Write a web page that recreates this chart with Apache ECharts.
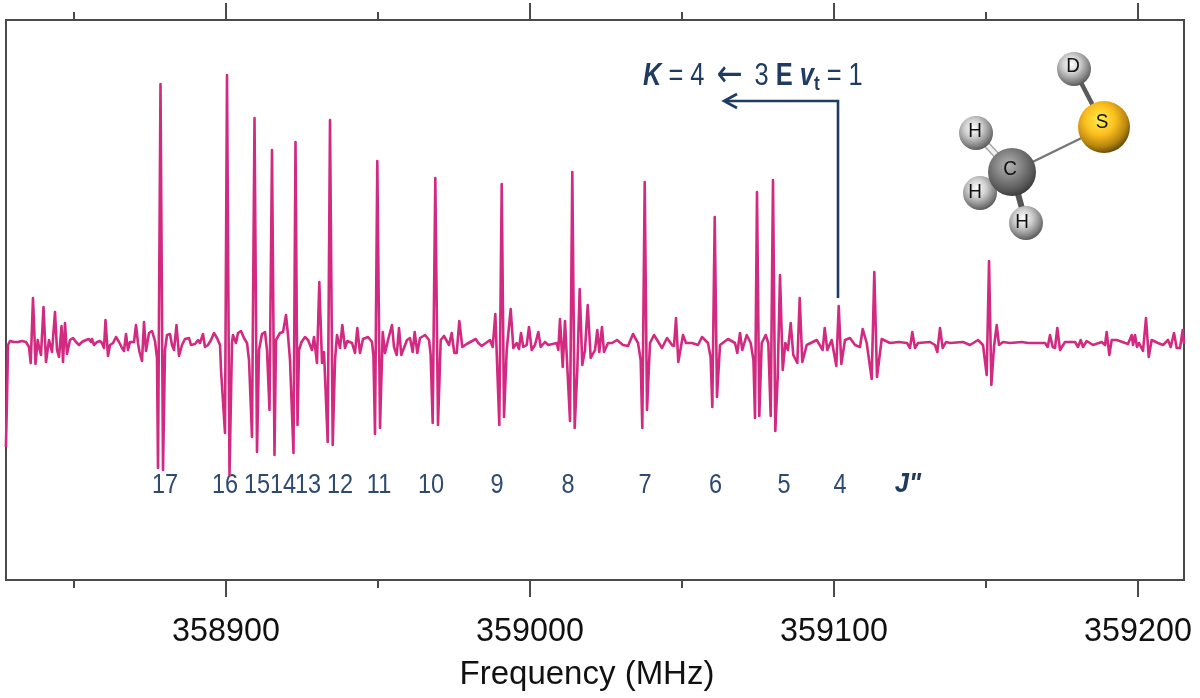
<!DOCTYPE html>
<html><head><meta charset="utf-8">
<style>html,body{margin:0;padding:0;background:#fff}#c{width:1200px;height:698px}</style>
<script src="https://cdn.jsdelivr.net/npm/echarts@6/dist/echarts.min.js"></script>
</head><body><div id="c"></div>
<script>
const BASE_MHZ = 358800;
const freqOffsets = [27.6,27.96,28.29,28.95,30.26,31.58,32.89,34.21,35.2,35.76,36.51,37.34,38.06,38.49,39.14,39.97,40.79,41.78,42.76,43.75,44.41,45.07,45.89,46.38,47.04,47.7,48.68,49.67,50.66,51.64,52.63,53.95,54.93,55.59,55.92,56.58,57.57,58.55,59.21,59.87,60.36,61.18,61.84,62.83,63.82,64.8,65.79,66.45,67.11,67.76,68.42,69.74,70.39,71.05,71.55,72.37,73.03,73.68,74.67,75.66,76.64,77.3,77.63,78.45,79.28,79.93,80.59,81.58,82.24,82.89,83.72,84.54,85.53,86.51,87.83,88.49,89.8,90.79,91.45,92.43,93.09,94.08,95.07,96.05,97.04,98.03,98.36,99.67,100.33,101.15,101.97,102.3,103.29,103.95,104.93,105.92,106.91,107.57,108.55,109.38,110.2,110.86,111.84,112.83,113.49,114.31,115.13,115.95,116.45,117.76,118.75,119.74,120.39,121.05,122.2,122.86,123.52,124.01,124.84,125.99,126.97,128.29,128.95,129.93,130.69,131.58,132.24,133.45,134.21,135.1,135.86,136.51,137.5,138.26,139.14,139.9,141.45,142.43,143.19,144.08,145.07,146.71,148.03,148.5,149.01,149.77,150.66,151.55,152.3,153.29,154.61,155.26,156.15,156.91,157.66,159.54,160.53,161.41,162.07,162.93,163.82,165.47,166.78,167.3,167.99,168.85,169.74,170.63,171.71,173.36,174.24,175.1,175.89,176.74,177.73,179.18,182.14,183.0,184.11,186.84,187.73,188.59,189.9,190.69,191.45,192.34,193.65,194.51,195.63,196.38,197.04,197.8,198.91,199.67,200.56,201.64,202.73,203.52,204.93,206.02,208.78,209.31,209.87,210.76,211.51,213.16,213.91,214.7,215.56,216.35,217.2,218.09,218.98,219.97,221.38,222.14,222.8,223.68,224.34,225.66,226.97,228.62,230.59,232.24,233.88,235.53,236.4,236.94,237.73,238.49,239.47,240.79,243.42,245.07,246.71,247.37,248.03,248.78,250.33,251.32,253.29,255.26,256.58,258.55,259.4,259.97,260.76,261.51,262.5,265.13,267.43,268.19,269.08,269.84,271.28,272.6,273.5,274.01,274.67,275.43,276.22,277.53,278.39,279.18,279.93,280.69,281.48,282.24,283.13,283.99,284.87,285.76,286.61,287.93,288.72,289.57,291.02,294.31,296.28,296.94,297.8,299.24,300.76,301.55,302.4,303.62,305.26,306.91,308.55,309.44,310.76,312.4,313.26,314.14,315.69,318.42,321.38,324.01,325.0,325.76,326.64,327.63,331.58,333.22,333.98,334.87,335.76,336.84,338.16,342.43,344.74,347.37,349.01,350.23,351.0,351.76,352.63,353.52,354.28,355.59,357.89,361.84,363.82,369.41,370.3,371.05,371.94,372.7,373.45,374.34,375.99,379.28,380.26,381.15,381.91,383.12,385.2,388.06,389.14,389.7,390.56,391.35,392.99,396.71,397.93,398.36,399.01,399.67,400.33,401.64,402.63,403.52,404.5,406.58,408.22,409.87,410.76,411.84,412.73,413.82,414.7,415.13];
const intensity = [-105,-58,-3,1,0,0,1,0,-5,-21,44,-22,2,-5,-13,35,-20,2,-10,30,-8,-15,16,-20,19,-12,2,4,0,-3,0,2,3,0,3,-3,0,1,-1,-6,22,-14,-3,-1,5,0,-6,-9,8,-8,0,0,17,-1,-10,-19,20,-9,9,11,1,-16,-126,258,-128,-8,7,8,-3,-8,17,-14,-3,3,4,-3,-2,2,-1,8,-5,-3,2,9,4,-3,-28,-91,267,-133,-1,7,-1,9,11,4,-1,-18,-95,224,-110,-8,8,10,-8,-68,192,-113,2,9,10,27,7,-18,-111,200,-83,-8,0,5,2,-8,5,-21,60,-21,-10,-100,222,-103,-18,7,-6,17,-6,1,-1,-11,14,-11,3,5,0,-14,-92,181,-86,10,-11,2,17,-5,-13,14,-13,2,4,-10,10,-11,4,7,2,-12,-81,164,-83,2,6,-3,9,-11,-11,21,-5,-2,3,-1,-4,2,-5,28,-83,158,-75,-8,33,-6,-1,-7,9,-5,-3,15,-8,-3,10,-5,0,-3,-1,-8,23,-25,21,-79,170,-86,-28,53,-23,-8,37,-16,-8,12,-10,15,-10,-1,-1,2,-3,-4,8,-1,-18,-86,160,-68,-1,7,-6,4,-3,-4,24,-20,7,-1,-1,-3,5,-1,-15,-65,125,-55,-3,3,-1,-11,9,-8,7,-1,-18,-76,150,-74,-1,7,-1,-74,162,-89,-35,67,-28,-1,-8,19,-13,-21,44,-20,-3,2,-8,14,-8,2,-24,36,-22,2,4,-3,-5,13,-1,-37,70,-35,3,-1,0,-1,-6,10,-6,-1,0,-3,-10,14,-6,0,-1,0,-3,2,-3,-33,81,-43,-5,17,-3,0,-1,0,-1,-1,-5,7,-5,-6,14,-8,0,0,-5,2,-5,1,-3,0,-3,10,-13,2,2,-2,7,-3,7,-5,-1,-9,24,-15,2,-1,-3,2,-5,9,-6,-6,12,-2];
const majorTicks = [358900,359000,359100,359200];
const minorTicks = [358850,358950,359050,359150];
const jLabels = ['17','16','15','14','13','12','11','10','9','8','7','6','5','4'];
const jOffsets = [79.93,99.67,110.2,118.75,126.97,137.5,150.33,167.43,189.14,212.5,237.83,261.02,283.55,301.97];
const jLevel = -143;
const jDoublePrimeOffset = 324.34;
const xMin = 358827.63, xMax = 359215.13, yMin = -238, yMax = 322;

const NAVY = '#1f3b60', LABEL = '#2f4a70', PINK = '#d12a80', FRAME = '#4a4a4a';
const SANS = '"Liberation Sans", Arial, sans-serif';

const spectrum = freqOffsets.map((f, i) => [BASE_MHZ + f, intensity[i]]);
const jData = jLabels.map((t, i) => [BASE_MHZ + jOffsets[i], jLevel, i]);

function xAx(pos, vals, len, labels, extra) {
  return Object.assign({
    type: 'value', position: pos, min: xMin, max: xMax, scale: true,
    splitLine: { show: false },
    axisLine: { show: true, onZero: false, lineStyle: { color: FRAME, width: 2 } },
    axisTick: { show: true, length: len, customValues: vals, lineStyle: { color: FRAME, width: 2 } },
    axisLabel: labels
      ? { show: true, customValues: vals, margin: 36, fontFamily: SANS, fontSize: 32.3, color: '#111', formatter: v => String(v) }
      : { show: false }
  }, extra || {});
}
function ball(cx, cy, r, stops) {
  return { type: 'circle', shape: { cx, cy, r }, z: 20, style: { fill: {
    type: 'radial', x: 0.42, y: 0.36, r: 0.66, colorStops: stops } } };
}
function atomText(x, y, t) {
  return { type: 'text', z: 21, x, y, scaleX: 0.9, style: { x: 0, y: 0, text: t, fill: '#111', font: '21px ' + SANS, align: 'center', verticalAlign: 'middle' } };
}
function bond(x1, y1, x2, y2, c, w) {
  return { type: 'line', z: 19, shape: { x1, y1, x2, y2 }, style: { stroke: c, lineWidth: w } };
}
const grey = [{ offset: 0, color: '#ffffff' }, { offset: 0.4, color: '#cfcfcf' }, { offset: 0.78, color: '#858585' }, { offset: 1, color: '#565656' }];
const dark = [{ offset: 0, color: '#b4b4b4' }, { offset: 0.45, color: '#808080' }, { offset: 0.82, color: '#555555' }, { offset: 1, color: '#3a3a3a' }];
const gold = [{ offset: 0, color: '#fff24a' }, { offset: 0.45, color: '#fbbd1e' }, { offset: 0.78, color: '#b8860f' }, { offset: 1, color: '#5e4a0d' }];

function renderJ(params, api) {
  const p = api.coord([api.value(0), api.value(1)]);
  return { type: 'text', x: p[0], y: p[1], scaleX: 0.84, silent: true,
    style: { x: 0, y: 0, text: jLabels[api.value(2)], fill: LABEL, font: '28px ' + SANS, align: 'center', verticalAlign: 'middle' } };
}
function renderJpp(params, api) {
  const p = api.coord([api.value(0), api.value(1)]);
  return { type: 'text', x: p[0], y: p[1], scaleX: 0.95, silent: true,
    style: { x: 0, y: 0, text: 'J"', fill: NAVY, font: 'italic bold 27px ' + SANS, align: 'center', verticalAlign: 'middle' } };
}

const chart = echarts.init(document.getElementById('c'), null, { renderer: 'canvas' });
chart.setOption({
  animation: false,
  backgroundColor: '#fff',
  grid: { left: 6, right: 16, top: 20, bottom: 118, show: true, borderColor: FRAME, borderWidth: 2, backgroundColor: 'transparent' },
  xAxis: [
    xAx('bottom', majorTicks, 17, true, {
      name: 'Frequency (MHz)', nameLocation: 'middle', nameGap: 78,
      nameTextStyle: { fontFamily: SANS, fontSize: 33, color: '#111', padding: [0, 16, 0, 0] }
    }),
    xAx('bottom', minorTicks, 8, false),
    xAx('top', majorTicks, 17, false),
    xAx('top', minorTicks, 8, false)
  ],
  yAxis: { type: 'value', min: yMin, max: yMax, show: false },
  series: [
    { type: 'custom', xAxisIndex: 0, z: 1, silent: true, data: jData, renderItem: renderJ, clip: false },
    { type: 'custom', xAxisIndex: 0, z: 1, silent: true, data: [[BASE_MHZ + jDoublePrimeOffset, jLevel]], renderItem: renderJpp, clip: false },
    { type: 'line', xAxisIndex: 0, data: spectrum, showSymbol: false, smooth: false, z: 5, silent: true, clip: true,
      lineStyle: { color: PINK, width: 2.6, join: 'round' } }
  ],
  graphic: { elements: [
    { type: 'polyline', z: 15, shape: { points: [[838, 298], [838, 101], [726, 101]] }, style: { stroke: NAVY, lineWidth: 2.6, fill: null } },
    { type: 'polyline', z: 15, shape: { points: [[737, 94], [724, 101], [737, 108]] }, style: { stroke: NAVY, lineWidth: 2.6, fill: null } },
    { type: 'text', z: 16, x: 643, y: 76, scaleX: 0.82, style: { x: 0, y: 0, verticalAlign: 'middle', fill: NAVY,
      text: '{bi|K} = 4 {a|←} 3 {b|E} {bi|v}{sub|t} = 1',
      font: '31px ' + SANS,
      rich: {
        bi: { font: 'italic bold 31px ' + SANS, fill: NAVY },
        b: { font: 'bold 31px ' + SANS, fill: NAVY },
        a: { font: '38px "DejaVu Sans"', fill: NAVY, padding: [0, 6, 0, 6] },
        sub: { font: 'bold 21px ' + SANS, fill: NAVY, verticalAlign: 'bottom', padding: [12, 0, 0, 0] }
      } } },
    bond(1074, 69, 1104, 127, '#5a5a5a', 4.5),
    bond(1012, 172, 1104, 127, '#777', 2.5),
    bond(976, 133, 1012, 172, '#a8a8a8', 7),
    bond(976, 133, 1012, 172, '#f2f2f2', 4),
    bond(980, 193, 1012, 172, '#a8a8a8', 7),
    bond(980, 193, 1012, 172, '#f2f2f2', 4),
    bond(1026, 223, 1012, 172, '#555', 6),
    ball(976, 133, 17, grey), ball(980, 193, 17, grey), ball(1026, 223, 17, grey), ball(1074, 69, 17, grey),
    ball(1012, 172, 24, dark), ball(1104, 127, 26, gold),
    atomText(975, 131, 'H'), atomText(975, 192, 'H'), atomText(1022, 222, 'H'),
    atomText(1073, 66, 'D'), atomText(1102, 122, 'S'), atomText(1010, 169, 'C')
  ] }
});
</script></body></html>
